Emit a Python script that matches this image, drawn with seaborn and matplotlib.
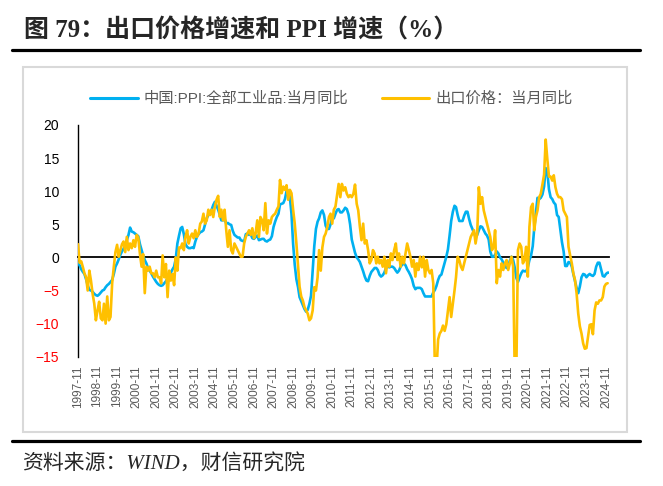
import numpy as np
import pandas as pd
import matplotlib
matplotlib.use('Agg')
import matplotlib.pyplot as plt
import matplotlib.dates as mdates
from matplotlib.lines import Line2D
from matplotlib.patches import Rectangle
import seaborn as sns

# monthly data, 1997-11 .. 2025-01 (one row per year)
ppi = [
    -0.8, -1.2,
    -1.8, -2.2, -2.5, -3.3, -4.2, -4.9, -5.0, -5.2, -5.5, -5.7, -5.8, -5.6,
    -5.3, -5.0, -4.9, -4.5, -4.2, -4.0, -3.7, -3.4, -2.5, -1.4, -0.9, -0.3,
    0.4, 0.9, 1.3, 1.8, 2.6, 3.4, 4.5, 3.9, 3.8, 3.6, 3.4, 3.2,
    2.0, 1.1, 0.3, -0.4, -0.9, -1.6, -2.0, -2.4, -2.9, -3.3, -3.7, -4.0,
    -4.2, -4.3, -4.2, -3.9, -3.6, -3.1, -2.9, -2.3, -1.8, -1.4, -0.2, 2.1,
    3.3, 4.4, 4.6, 3.5, 2.0, 1.6, 1.4, 1.4, 1.5, 1.4, 2.4, 3.1,
    3.5, 3.8, 3.9, 4.1, 5.0, 5.9, 6.4, 6.8, 7.2, 7.9, 8.4, 7.8,
    7.2, 6.4, 5.6, 5.6, 5.8, 5.1, 5.2, 5.0, 4.9, 4.0, 3.4, 3.2,
    3.0, 3.0, 2.6, 2.5, 2.4, 3.5, 3.6, 3.4, 3.5, 2.9, 2.8, 3.1,
    3.3, 2.6, 2.7, 2.8, 2.8, 2.5, 2.4, 2.6, 2.7, 3.2, 4.6, 5.4,
    6.1, 6.6, 8.0, 8.1, 8.2, 8.8, 10.0, 10.1, 9.1, 6.6, 2.0, -1.1,
    -3.3, -4.5, -6.0, -6.6, -7.2, -7.8, -8.2, -7.9, -7.0, -5.8, -2.1, 1.7,
    4.3, 5.4, 5.9, 6.8, 7.1, 6.4, 4.8, 4.3, 4.3, 5.0, 6.1, 5.9,
    6.6, 7.2, 7.3, 6.8, 6.8, 7.1, 7.5, 7.3, 6.5, 5.0, 2.7, 1.7,
    0.7, 0.0, -0.3, -0.7, -1.4, -2.1, -2.9, -3.5, -3.6, -2.8, -2.2, -1.9,
    -1.6, -1.6, -1.9, -2.6, -2.9, -2.7, -2.3, -1.6, -1.3, -1.5, -1.4, -1.4,
    -1.6, -2.0, -2.3, -2.0, -1.4, -1.1, -0.9, -1.2, -1.8, -2.2, -2.7, -3.3,
    -4.3, -4.8, -4.6, -4.6, -4.6, -4.8, -5.4, -5.9, -5.9, -5.9, -5.9, -5.9,
    -5.3, -4.9, -4.3, -3.4, -2.8, -2.6, -1.7, -0.8, 0.1, 1.2, 3.3, 5.5,
    6.9, 7.8, 7.6, 6.4, 5.5, 5.5, 5.5, 6.3, 6.9, 6.9, 5.8, 4.9,
    4.3, 3.7, 3.1, 3.4, 4.1, 4.7, 4.6, 4.1, 3.6, 3.3, 2.7, 0.9,
    0.1, 0.1, 0.4, 0.9, 0.6, 0.0, -0.3, -0.8, -1.2, -1.6, -1.4, -0.5,
    0.1, -0.4, -1.5, -3.1, -3.7, -3.0, -2.4, -2.0, -2.1, -2.1, -1.5, -0.4,
    0.3, 1.7, 4.4, 6.8, 9.0, 8.8, 9.0, 9.5, 10.7, 13.5, 12.9, 10.3,
    9.1, 8.8, 8.3, 8.0, 6.4, 6.1, 4.2, 2.3, 0.9, -1.3, -1.3, -0.7,
    -0.8, -1.4, -2.5, -3.6, -4.6, -5.4, -4.4, -3.0, -2.5, -2.6, -3.0, -2.7,
    -2.5, -2.7, -2.8, -2.5, -1.4, -0.8, -0.8, -1.8, -2.8, -2.9, -2.5, -2.3,
    -2.3,
]

export_price = [
    2.0, -0.8,
    -0.6, -1.5, -2.4, -3.0, -5.0, -2.0, -3.5, -5.5, -7.0, -9.5, -8.0, -6.7,
    -9.2, -9.5, -7.0, -10.0, -5.9, -9.5, -9.0, -3.9, -1.4, 0.8, 1.9, 0.1,
    1.1, 2.0, 2.4, 0.8, 3.1, 1.1, 2.1, 1.4, 2.6, 1.6, 3.4, 3.0,
    0.5, -1.4, 0.5, -5.4, -1.4, -2.0, -1.4, -2.4, -2.4, -3.0, -2.0, -3.0,
    -3.0, -3.9, 0.3, -3.0, -1.0, -6.0, -2.0, -3.5, -2.5, -4.2, 0.0, -2.0,
    1.5, 1.4, 2.1, 1.1, 3.1, 4.1, 2.1, 3.1, 3.6, 2.9, 4.1, 3.1,
    3.6, 5.1, 5.4, 6.6, 5.1, 5.6, 7.2, 6.4, 7.2, 6.1, 7.7, 8.7,
    9.3, 6.1, 7.2, 5.6, 7.2, 4.1, 1.6, 4.1, 1.1, 0.6, 2.1, 1.6,
    1.1, 0.6, 0.1, 0.1, 2.1, 3.1, 3.6, 4.1, 3.4, 4.4, 2.9, 3.6,
    5.6, 3.1, 6.1, 5.6, 4.1, 8.2, 3.6, 5.6, 5.1, 6.1, 6.4, 6.6,
    7.2, 7.7, 11.7, 9.7, 10.7, 10.2, 10.9, 8.7, 10.2, 9.7, 7.2, 5.1,
    2.1, -1.4, -4.4, -5.9, -6.5, -7.5, -8.0, -8.5, -9.5, -9.2, -8.0, -4.5,
    -5.0, -3.0, 1.1, -2.0, 1.5, 3.1, 3.6, 4.6, 6.1, 6.6, 5.1, 7.2,
    7.7, 9.5, 11.1, 9.1, 11.1, 10.1, 10.6, 9.6, 9.1, 9.4, 9.1, 9.6,
    11.0, 8.1, 7.1, 4.6, 2.6, 5.1, 2.1, 2.6, 1.1, -0.9, -0.4, 1.1,
    0.6, -0.9, 0.1, -0.9, -0.4, -1.4, 0.1, -2.4, -0.4, -1.4, 0.6, -0.4,
    1.1, 2.1, -0.4, 0.6, -1.4, 0.1, -0.9, 0.6, 2.1, 1.1, 0.1, -1.4,
    -0.4, -2.9, -0.9, -1.9, 0.1, -1.5, 0.1, -2.9, -0.4, -1.9, -2.4, -1.9,
    -3.9, -17.0, -17.0, -12.4, -11.5, -11.1, -10.3, -11.1, -10.1, -8.1, -6.0, -9.0,
    -7.0, -5.0, -3.0, 0.1, -0.4, -1.4, -1.9, -0.9, 0.1, 1.1, 2.1, 3.1,
    3.6, 4.1, 2.1, 3.6, 10.6, 8.1, 9.1, 7.1, 6.1, 5.1, 4.1, 3.1,
    1.1, 1.6, 4.1, -3.9, -1.9, -2.9, -0.9, -1.9, -0.9, -0.4, -1.9, -0.9,
    0.1, -1.4, -17.0, -17.0, 1.1, 2.1, 1.6, -0.9, -0.4, 1.6, -2.9, 4.6,
    7.6, 8.1, 4.1, 6.1, 7.1, 9.1, 9.6, 11.0, 12.5, 17.8, 14.8, 12.2,
    12.2, 11.6, 12.4, 10.6, 9.6, 9.1, 9.1, 8.8, 7.1, 6.6, 6.1, 1.6,
    0.3, -0.9, -2.4, -3.4, -5.4, -8.5, -10.4, -11.5, -13.0, -13.8, -13.7, -12.0,
    -10.2, -10.1, -11.6, -8.0, -6.8, -7.0, -6.5, -6.5, -6.0, -4.4, -4.0, -3.9,
]

series_names = ['中国:PPI:全部工业品:当月同比', '出口价格：当月同比']
series_colors = ['#00B0F0', '#FFC000']
y_ticks = [-15, -10, -5, 0, 5, 10, 15, 20]

months = pd.date_range('1997-11-01', periods=len(ppi), freq='MS')
tick_dates = pd.date_range('1997-11-01', '2024-11-01', freq='12MS')
tick_labels = [d.strftime('%Y-%m') for d in tick_dates]

export_full = export_price + [np.nan] * (len(ppi) - len(export_price))
df = pd.DataFrame({'date': months, series_names[0]: ppi, series_names[1]: export_full})
long_df = df.melt('date', var_name='series', value_name='value').dropna()

sns.set_style('white')
plt.rcParams['font.family'] = ['Liberation Sans', 'Noto Sans CJK SC']

W, H = 663, 486
fig = plt.figure(figsize=(W / 100, H / 100), dpi=100)
ax = fig.add_axes([78 / W, 1 - 356.7 / H, (609.3 - 78) / W, (356.7 - 125) / H])

sns.lineplot(data=long_df, x='date', y='value', hue='series',
             hue_order=series_names,
             palette=dict(zip(series_names, series_colors)),
             estimator=None, errorbar=None, linewidth=1.9,
             legend=False, ax=ax, zorder=3)

ax.set_xlim(months[0], months[-1])
ax.set_ylim(-15, 20)
ax.set_yticks(y_ticks)
ax.set_xlabel('')
ax.set_ylabel('')
ax.grid(False)

for s in ['top', 'right']:
    ax.spines[s].set_visible(False)
ax.spines['left'].set_color('black')
ax.spines['left'].set_linewidth(1.0)
ax.spines['bottom'].set_position(('data', 0))
ax.spines['bottom'].set_color('black')
ax.spines['bottom'].set_linewidth(1.3)

ax.tick_params(axis='y', direction='out', length=3.5, width=1, color='black',
               labelsize=10, pad=10)
for lbl, v in zip(ax.get_yticklabels(), y_ticks):
    lbl.set_color('#FF0000' if v < 0 else 'black')

ax.set_xticks(tick_dates)
ax.tick_params(axis='x', direction='out', length=3, width=1, color='black',
               labelbottom=False)

sec = ax.secondary_xaxis('bottom')
sec.set_xticks(mdates.date2num(tick_dates), labels=tick_labels)
sec.tick_params(length=0, labelsize=8.5, labelcolor='#595959', pad=6)
for lbl in sec.get_xticklabels():
    lbl.set_rotation(90)
sec.spines['bottom'].set_visible(False)

handles = [Line2D([], [], color=c, lw=2.2) for c in series_colors]
fig.legend(handles, series_names, loc='center', bbox_to_anchor=(0.5, 1 - 99 / H),
           ncol=2, frameon=False, fontsize=11, handlelength=3.1,
           handletextpad=0.4, columnspacing=2.2, labelcolor='#595959')

# chart frame, rules, title, source
fig.patches.append(Rectangle((23 / W, 1 - 432 / H), (627 - 23) / W, (432 - 67) / H,
                             transform=fig.transFigure, fill=False,
                             edgecolor='#D9D9D9', lw=1.5))
fig.add_artist(Line2D([12 / W, 640 / W], [1 - 50 / H] * 2, color='black', lw=2.3))
fig.add_artist(Line2D([12 / W, 640 / W], [1 - 441 / H] * 2, color='black', lw=2.3))

fig.text(24 / W, 1 - 31 / H, '图 79：出口价格增速和 PPI 增速（%）', fontsize=18,
         fontweight='bold', family=['Liberation Serif', 'Noto Sans CJK SC'],
         ha='left', va='center')
fig.text(22 / W, 1 - 465 / H, '资料来源：WIND，财信研究院', fontsize=15,
         style='italic', family=['Liberation Serif', 'Noto Sans CJK SC'],
         ha='left', va='center')

fig.savefig('out.png', dpi=100)
